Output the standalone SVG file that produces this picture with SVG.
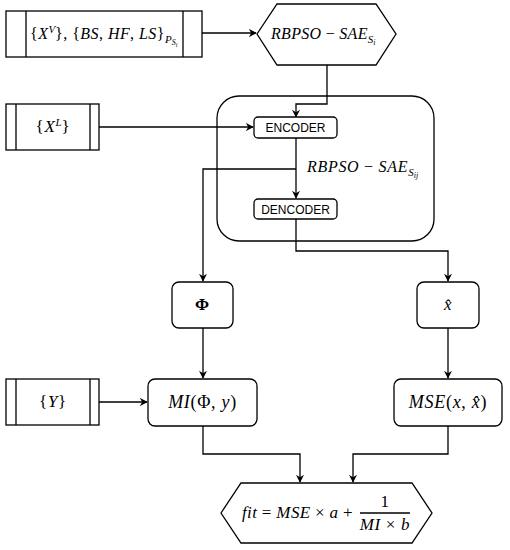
<svg xmlns="http://www.w3.org/2000/svg" width="510" height="550" viewBox="0 0 510 550">
<style>
.s{fill:#fff;stroke:#000;stroke-width:1.3}
.c{fill:none;stroke:#000;stroke-width:1.3}
.m{font-family:"Liberation Serif","DejaVu Serif",serif;font-size:17px;font-style:italic;fill:#000;letter-spacing:0.7px}
.u{font-style:normal}
.sb{font-size:11px;letter-spacing:0}
.ss{font-size:8px;letter-spacing:0}
.sans{font-family:"Liberation Sans",Arial,sans-serif;font-size:12px;fill:#000}
</style>
<defs>
<marker id="ah" viewBox="0 0 10 10" refX="9" refY="5" markerWidth="8" markerHeight="8" markerUnits="userSpaceOnUse" orient="auto">
<path d="M0,0 L10,5 L0,10 L3,5 z" fill="#000"/>
</marker>
</defs>
<g id="connectors">
<path class="c" d="M202,33 H256" marker-end="url(#ah)"/>
<path class="c" d="M327,65 V104 H296 V117" marker-end="url(#ah)"/>
<path class="c" d="M99,127 H253" marker-end="url(#ah)"/>
<path class="c" d="M296,138 V198" marker-end="url(#ah)"/>
<path class="c" d="M296,169 H203 V281" marker-end="url(#ah)"/>
<path class="c" d="M296,219 V251 H448 V281" marker-end="url(#ah)"/>
<path class="c" d="M203,328 V378" marker-end="url(#ah)"/>
<path class="c" d="M448,328 V378" marker-end="url(#ah)"/>
<path class="c" d="M99,402 H147" marker-end="url(#ah)"/>
<path class="c" d="M203,426 V454 H300 V482" marker-end="url(#ah)"/>
<path class="c" d="M448,426 V454 H353 V482" marker-end="url(#ah)"/>
</g>
<g id="container">
<rect class="c" x="217" y="96" width="217" height="145" rx="22"/>
<text class="m" x="307" y="172" style="font-size:16px">RBPSO <tspan class="u">−</tspan> SAE<tspan class="sb" dy="4">S</tspan><tspan class="ss" dy="2">ij</tspan></text>
</g>
<g id="input1">
<rect class="s" x="6" y="11" width="196" height="46"/>
<path class="c" d="M26,11 V57 M183,11 V57"/>
<text class="m" x="30" y="39" style="font-size:16px;letter-spacing:0.45px"><tspan class="u">{</tspan>X<tspan class="sb" dy="-6">V</tspan><tspan class="u" dy="6">}, {</tspan>BS<tspan class="u">, </tspan>HF<tspan class="u">, </tspan>LS<tspan class="u">}</tspan><tspan class="sb" dy="4">P</tspan><tspan class="ss" dy="2">S</tspan><tspan style="font-size:6px;letter-spacing:0" dy="2">i</tspan></text>
</g>
<g id="rbpso">
<path class="s" d="M257,34 L277,4 H376 L396,34 L376,65 H277 Z"/>
<text class="m" x="271" y="39" style="font-size:16px;letter-spacing:0.3px">RBPSO <tspan class="u">−</tspan> SAE<tspan class="sb" dy="4">S</tspan><tspan class="ss" dy="2">i</tspan></text>
</g>
<g id="input2">
<rect class="s" x="6" y="104" width="93" height="46"/>
<path class="c" d="M16,104 V150 M90,104 V150"/>
<text class="m" x="53" y="132" text-anchor="middle"><tspan class="u">{</tspan>X<tspan class="sb" dy="-6">L</tspan><tspan class="u" dy="6">}</tspan></text>
</g>
<g id="encoder">
<rect class="s" x="254" y="117" width="83" height="21" rx="4"/>
<text class="sans" x="295.5" y="132" text-anchor="middle">ENCODER</text>
</g>
<g id="decoder">
<rect class="s" x="254" y="199" width="83" height="20" rx="4"/>
<text class="sans" x="295.5" y="213.5" text-anchor="middle">DENCODER</text>
</g>
<g id="phi">
<rect class="s" x="172" y="282" width="61" height="46" rx="7"/>
<text class="m u" x="202.5" y="310" text-anchor="middle" style="font-style:normal;font-weight:bold">Φ</text>
</g>
<g id="xhat">
<rect class="s" x="417" y="282" width="62" height="46" rx="7"/>
<text class="m" x="448" y="310" text-anchor="middle">x̂</text>
</g>
<g id="input3">
<rect class="s" x="6" y="379" width="93" height="46"/>
<path class="c" d="M16,379 V425 M90,379 V425"/>
<text class="m" x="53" y="407" text-anchor="middle"><tspan class="u">{</tspan>Y<tspan class="u">}</tspan></text>
</g>
<g id="mi">
<rect class="s" x="148" y="379" width="109" height="47" rx="7"/>
<text class="m" x="202.5" y="408" text-anchor="middle" style="font-size:18px">MI<tspan class="u">(Φ, </tspan>y<tspan class="u">)</tspan></text>
</g>
<g id="mse">
<rect class="s" x="394" y="379" width="108" height="47" rx="7"/>
<text class="m" x="448" y="408" text-anchor="middle" style="font-size:18px">MSE<tspan class="u">(</tspan>x<tspan class="u">, </tspan>x̂<tspan class="u">)</tspan></text>
</g>
<g id="fit">
<path class="s" d="M221,513 L241,483 H412 L432,513 L412,543 H241 Z"/>
<text class="m" x="242" y="518" style="letter-spacing:0.35px">fit <tspan class="u">=</tspan> MSE <tspan class="u">× </tspan>a <tspan class="u">+</tspan></text>
<text class="m u" x="385" y="507" text-anchor="middle" style="font-style:normal">1</text>
<path class="c" d="M360,513 H410"/>
<text class="m" x="385" y="530" text-anchor="middle">MI <tspan class="u">×</tspan> b</text>
</g>
</svg>
